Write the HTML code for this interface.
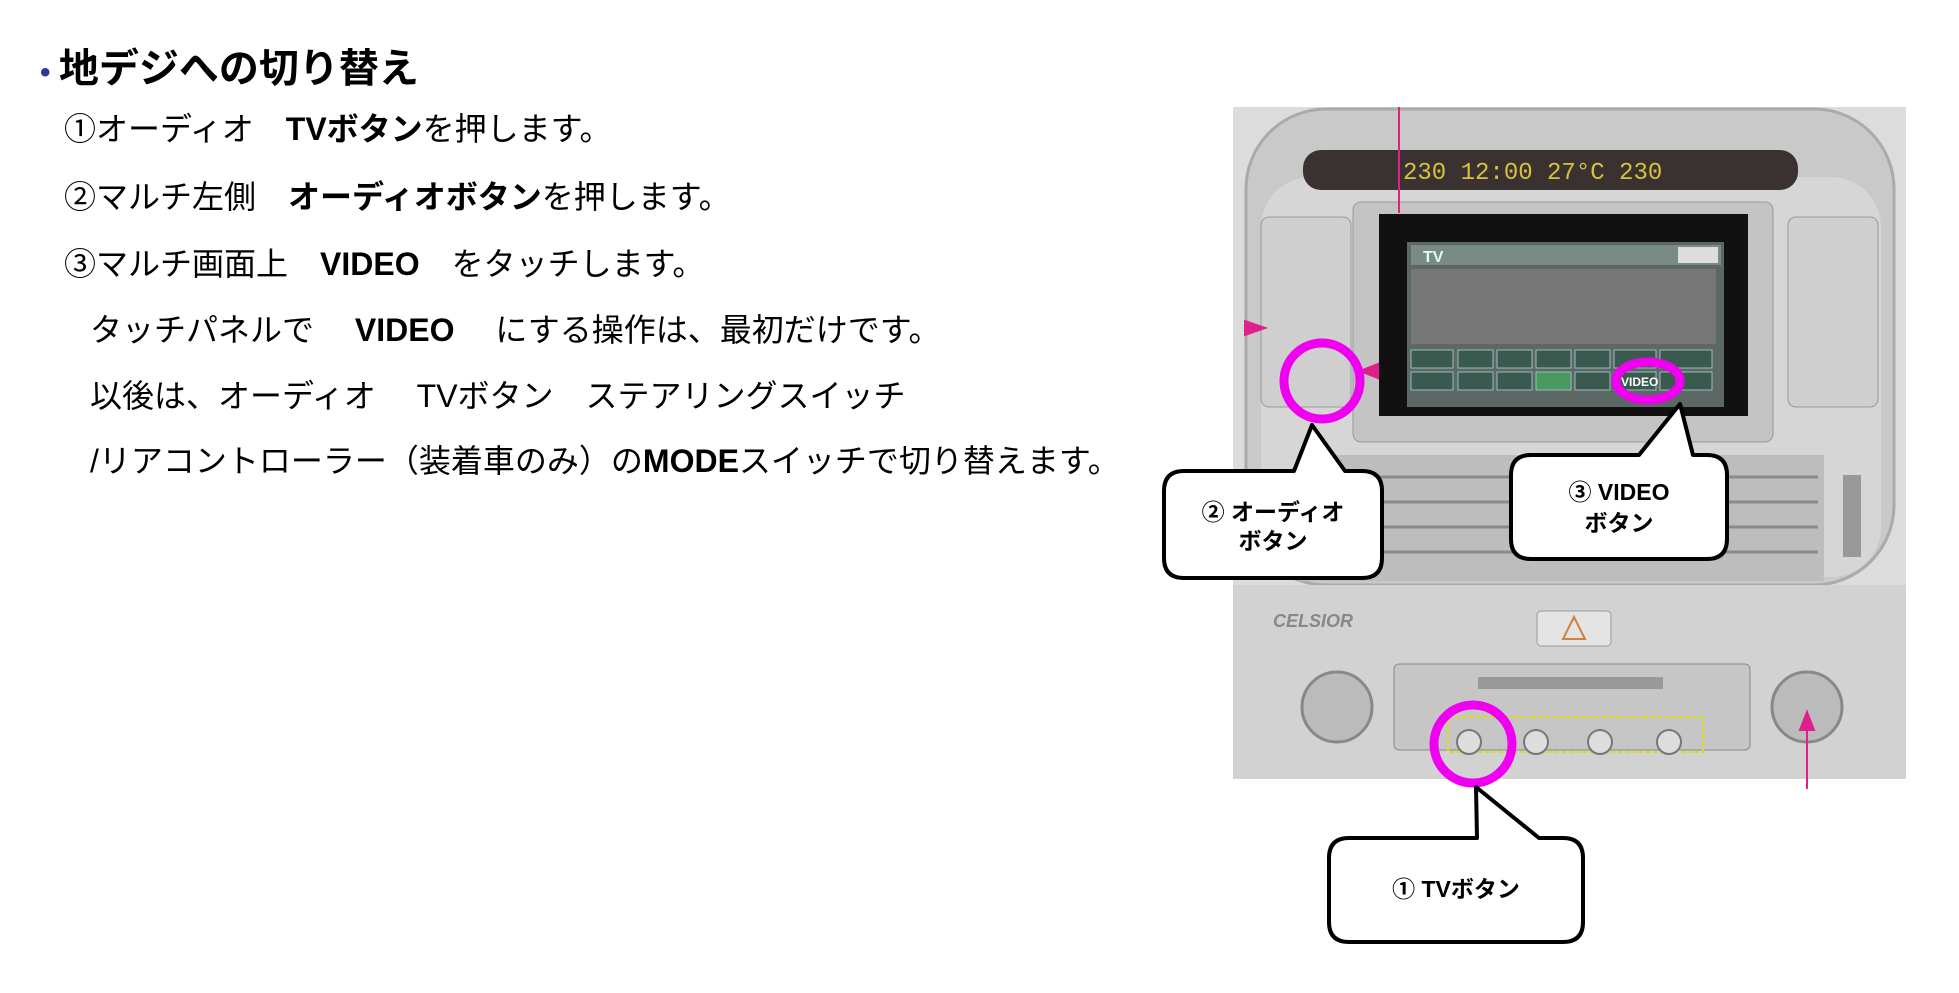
<!DOCTYPE html>
<html><head><meta charset="utf-8"><style>
body{margin:0;width:1959px;height:993px;background:#fff;position:relative;overflow:hidden;font-family:"Liberation Sans","Noto Sans CJK JP",sans-serif;}
.t{position:absolute;font-size:32px;color:#000;white-space:pre;line-height:1}
.h{position:absolute;left:40px;top:36px;font-size:40px;font-weight:bold;white-space:pre}
b{font-weight:bold}
</style></head><body>
<div class="h"><span style="color:#2b3a8f;font-size:30px">• </span>地デジへの切り替え</div>
<div class="t" style="left:64px;top:113px">①オーディオ　<b>TVボタン</b>を押します。</div>
<div class="t" style="left:64px;top:181px">②マルチ左側　<b>オーディオボタン</b>を押します。</div>
<div class="t" style="left:64px;top:248px">③マルチ画面上　<b>VIDEO</b>　をタッチします。</div>
<div class="t" style="left:90px;top:314px">タッチパネルで　 <b>VIDEO</b>　 にする操作は、最初だけです。</div>
<div class="t" style="left:90px;top:380px">以後は、オーディオ　 TVボタン　ステアリングスイッチ</div>
<div class="t" style="left:90px;top:445px">/リアコントローラー（装着車のみ）の<b>MODE</b>スイッチで切り替えます。</div>
<svg style="position:absolute;left:0;top:0" width="1959" height="993">
<g transform="translate(1233,107)">
<rect x="0" y="0" width="673" height="672" fill="#dcdcdc"/>
<rect x="13" y="2" width="648" height="476" rx="80" fill="#c9c9c9" stroke="#aaa" stroke-width="3"/>
<rect x="28" y="70" width="620" height="400" rx="50" fill="#d6d6d6"/>
<rect x="70" y="43" width="495" height="40" rx="18" fill="#3a3230"/>
<text x="170" y="72" font-family="Liberation Mono,monospace" font-size="24" fill="#d8c040">230 12:00  27°C 230</text>
<rect x="28" y="110" width="90" height="190" rx="8" fill="#cfcfcf" stroke="#999"/>
<rect x="555" y="110" width="90" height="190" rx="8" fill="#cfcfcf" stroke="#999"/>
<rect x="120" y="95" width="420" height="240" rx="8" fill="#c4c4c4" stroke="#999"/>
<rect x="146" y="107" width="369" height="202" fill="#111"/>
<rect x="174" y="135" width="317" height="165" fill="#5c6866"/>
<rect x="178" y="138" width="310" height="20" fill="#7a8a86"/>
<text x="190" y="155" font-size="16" font-weight="bold" fill="#dfe">TV</text>
<rect x="445" y="140" width="40" height="16" fill="#ddd"/>
<rect x="178" y="162" width="305" height="75" fill="#777"/>
<g fill="#3a5a50" stroke="#9bb" stroke-width="1">
<rect x="178" y="243" width="42" height="18"/><rect x="225" y="243" width="35" height="18"/><rect x="264" y="243" width="35" height="18"/><rect x="303" y="243" width="35" height="18"/><rect x="342" y="243" width="35" height="18"/><rect x="381" y="243" width="42" height="18"/><rect x="427" y="243" width="52" height="18"/>
<rect x="178" y="265" width="42" height="18"/><rect x="225" y="265" width="35" height="18"/><rect x="264" y="265" width="35" height="18"/><rect x="303" y="265" width="35" height="18" fill="#4a9a60"/><rect x="342" y="265" width="35" height="18"/><rect x="381" y="265" width="42" height="18"/><rect x="427" y="265" width="52" height="18"/>
</g>
<text x="388" y="279" font-size="12" font-weight="bold" fill="#fff">VIDEO</text>
<rect x="65" y="348" width="526" height="126" fill="#bdbdbd"/>
<g stroke="#8a8a8a" stroke-width="3"><line x1="70" y1="370" x2="585" y2="370"/><line x1="70" y1="395" x2="585" y2="395"/><line x1="70" y1="420" x2="585" y2="420"/><line x1="70" y1="445" x2="585" y2="445"/></g>
<rect x="610" y="368" width="18" height="82" fill="#999"/>
<rect x="0" y="478" width="673" height="194" fill="#d2d2d2"/>
<text x="40" y="520" font-size="18" font-weight="bold" fill="#888" font-style="italic">CELSIOR</text>
<rect x="304" y="504" width="74" height="35" rx="4" fill="#e4e4e4" stroke="#999"/>
<polygon points="341,510 330,532 352,532" fill="none" stroke="#d08040" stroke-width="2"/>
<circle cx="104" cy="600" r="35" fill="#bbb" stroke="#888" stroke-width="3"/>
<circle cx="574" cy="600" r="35" fill="#bbb" stroke="#888" stroke-width="3"/>
<rect x="161" y="557" width="356" height="86" rx="5" fill="#c6c6c6" stroke="#888"/>
<rect x="245" y="570" width="185" height="12" fill="#999"/>
<rect x="215" y="610" width="255" height="35" fill="none" stroke="#dd0" stroke-dasharray="4,3" stroke-width="2"/>
<g fill="#ddd" stroke="#777" stroke-width="2"><circle cx="236" cy="635" r="12"/><circle cx="303" cy="635" r="12"/><circle cx="367" cy="635" r="12"/><circle cx="436" cy="635" r="12"/></g>
</g>
<g stroke="#e0208a" stroke-width="2" fill="#e0208a">
<line x1="1399" y1="107" x2="1399" y2="213"/>
<line x1="1807" y1="789" x2="1807" y2="725"/><polygon points="1807,712 1800,730 1814,730"/>
<polygon points="1265,328 1245,321 1245,335"/>
<polygon points="1360,371 1378,364 1378,378"/>
</g>
<g fill="none" stroke="#f000f0" stroke-width="9">
<circle cx="1322" cy="381" r="38"/>
<ellipse cx="1648" cy="381" rx="32" ry="19"/>
<circle cx="1473" cy="744" r="39"/>
</g>
<g fill="#fff" stroke="#000" stroke-width="4" stroke-linejoin="round">
<path d="M1184,471 H1294 L1312,425 L1345,471 H1362 Q1382,471 1382,491 V558 Q1382,578 1362,578 H1184 Q1164,578 1164,558 V491 Q1164,471 1184,471 Z"/>
<path d="M1531,455 H1639 L1680,404 L1693,455 H1707 Q1727,455 1727,475 V539 Q1727,559 1707,559 H1531 Q1511,559 1511,539 V475 Q1511,455 1531,455 Z"/>
<path d="M1349,838 H1477 L1476,787 L1539,838 H1563 Q1583,838 1583,858 V922 Q1583,942 1563,942 H1349 Q1329,942 1329,922 V858 Q1329,838 1349,838 Z"/>
</g>
<g font-family="Liberation Sans,Noto Sans CJK JP,sans-serif" font-size="23" font-weight="bold" text-anchor="middle" fill="#000">
<text x="1273" y="520">②  オーディオ</text><text x="1273" y="549">ボタン</text>
<text x="1619" y="500">③  VIDEO</text><text x="1619" y="531">ボタン</text>
<text x="1456" y="897">①  TVボタン</text>
</g>
</svg>
</body></html>
